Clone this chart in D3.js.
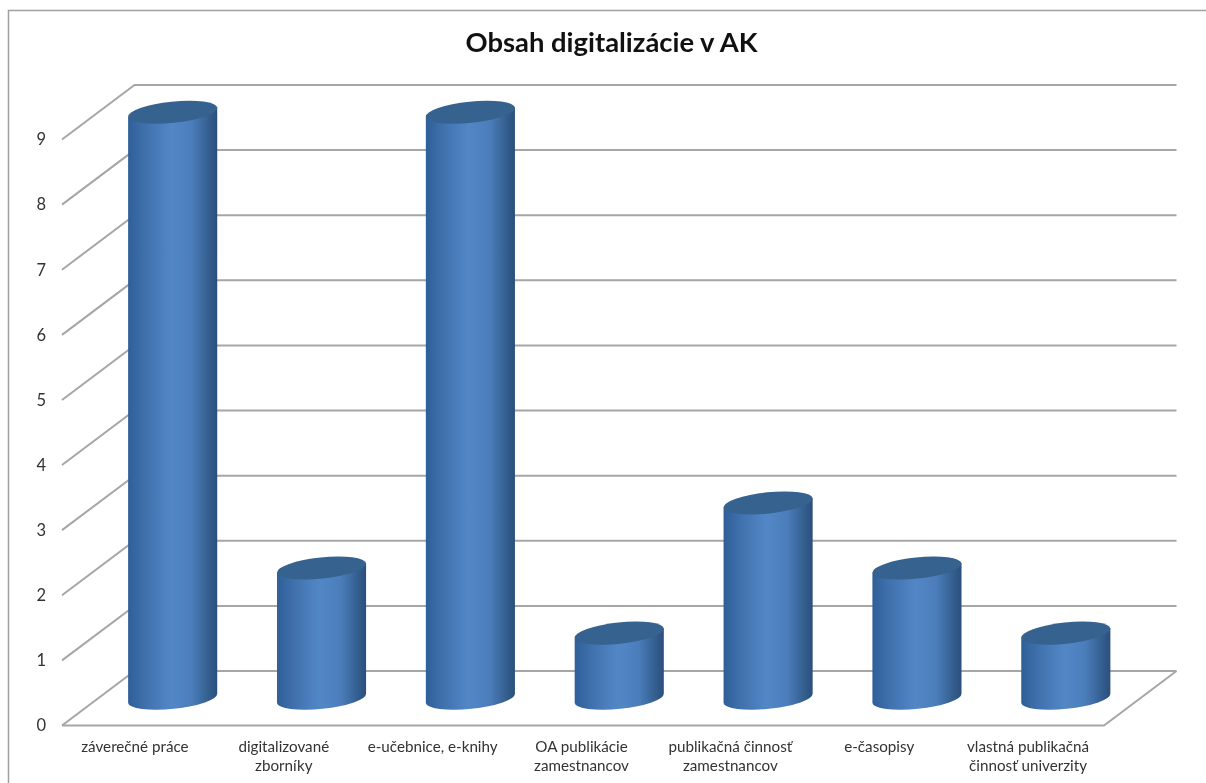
<!DOCTYPE html>
<html>
<head>
	<title>Obsah digitalizácie v AK</title>
	<meta charset="utf-8">
	<script src="https://cdnjs.cloudflare.com/ajax/libs/d3/7.8.5/d3.min.js"></script>
</head>
<style type="text/css">
	html, body { margin: 0; padding: 0; background: #fff; overflow: hidden; }
	svg { filter: blur(0.45px); }
	text { font-family: Lato, "Open Sans", sans-serif; fill: #333; }
</style>
<body>
</body>
</html>
<script type="text/javascript">
	var categories = ["záverečné práce", "digitalizované\nzborníky", "e-učebnice, e-knihy", "OA publikácie\nzamestnancov", "publikačná činnosť\nzamestnancov", "e-časopisy", "vlastná publikačná\nčinnosť univerzity"];
	var values = [9, 2, 9, 1, 3, 2, 1];
	var yTicks = [0, 1, 2, 3, 4, 5, 6, 7, 8, 9];
	var title = "Obsah digitalizácie v AK";

	var width = 1206;
	var height = 783;
	var depthX = 72.5, depthY = -54.5; // shift from the front edge to the back wall

	var x = d3.scaleBand().domain(categories).range([62, 1104]);
	var y = d3.scaleLinear().domain([0, 9]).range([725.5, 139.5]);

	var svg = d3.select("body").append("svg").attr("width", width).attr("height", height).style("display", "block");

	// bar gradient, dark edges with a light middle
	var grad = svg.append("defs").append("linearGradient").attr("id", "cyl");
	grad.append("stop").attr("offset", "0%").attr("stop-color", "#2f5f98");
	grad.append("stop").attr("offset", "18%").attr("stop-color", "#3f70ac");
	grad.append("stop").attr("offset", "48%").attr("stop-color", "#5287c6");
	grad.append("stop").attr("offset", "72%").attr("stop-color", "#4b7dba");
	grad.append("stop").attr("offset", "90%").attr("stop-color", "#345f90");
	grad.append("stop").attr("offset", "100%").attr("stop-color", "#2b4f7b");

	// outer frame
	svg.append("path").attr("d", "M8.5," + height + "V10.5H" + width).attr("fill", "none").attr("stroke", "#a0a0a0").attr("stroke-width", 1.5);

	var gridColor = "#a6a6a6";
	var grid = svg.append("g").attr("fill", "none").attr("stroke", gridColor).attr("stroke-width", 2);

	// back wall and left wall lines
	grid.selectAll("path.line").data(yTicks).enter().append("path").attr("class", "line")
		.attr("d", function(d){
			return "M" + x.range()[0] + "," + y(d) + "L" + (x.range()[0] + depthX) + "," + (y(d) + depthY) + "H" + (x.range()[1] + depthX);
		});
	// floor front and right edge
	grid.append("path")
		.attr("d", "M" + x.range()[0] + "," + y(0) + "H" + x.range()[1] + "L" + (x.range()[1] + depthX) + "," + (y(0) + depthY));

	// y axis labels
	var yAxis = d3.axisLeft(y).tickValues(yTicks).tickSize(0).tickPadding(16);
	var yg = svg.append("g").attr("transform", "translate(62,0)").call(yAxis);
	yg.select(".domain").remove();
	yg.selectAll("text").attr("font-size", 16.5).style("font-family", null);

	// cylinders sit half way into the depth
	var rx = 44.8, ry = 10.6, tilt = -6;
	var dx = rx * Math.cos(tilt * Math.PI / 180);
	var dy = -rx * Math.sin(tilt * Math.PI / 180);
	var bars = svg.selectAll("g.bar").data(values).enter().append("g").attr("class", "bar")
		.attr("transform", function(d, i){
			return "translate(" + (x(categories[i]) + x.bandwidth() / 2 + depthX / 2) + "," + (depthY / 2) + ")";
		});
	bars.append("path")
		.attr("fill", "url(#cyl)")
		.attr("d", function(d){
			var top = y(d), bot = y(0);
			return "M" + (-dx) + "," + (top + dy) + "L" + (-dx) + "," + (bot + dy)
				+ "A" + rx + "," + ry + " " + tilt + " 0 0 " + dx + "," + (bot - dy)
				+ "L" + dx + "," + (top - dy) + "Z";
		});
	bars.append("ellipse")
		.attr("rx", rx).attr("ry", ry)
		.attr("fill", "#36628f")
		.attr("transform", function(d){ return "translate(0," + y(d) + ") rotate(" + tilt + ")"; });

	// category labels
	var labels = svg.selectAll("text.cat").data(categories).enter().append("text").attr("class", "cat")
		.attr("text-anchor", "middle")
		.attr("font-size", 15.2)
		.attr("y", 752);
	labels.selectAll("tspan").data(function(d){ return d.split("\n").map(function(t){ return {t: t, c: d}; }); }).enter().append("tspan")
		.attr("x", function(d){ return x(d.c) + x.bandwidth() / 2 - 1.5; })
		.attr("dy", function(d, i){ return i ? 18.5 : 0; })
		.text(function(d){ return d.t; });

	svg.append("text").attr("x", 611.5).attr("y", 52)
		.attr("text-anchor", "middle")
		.attr("font-size", 27.4).attr("font-weight", "bold")
		.style("fill", "#111")
		.text(title);
</script>
